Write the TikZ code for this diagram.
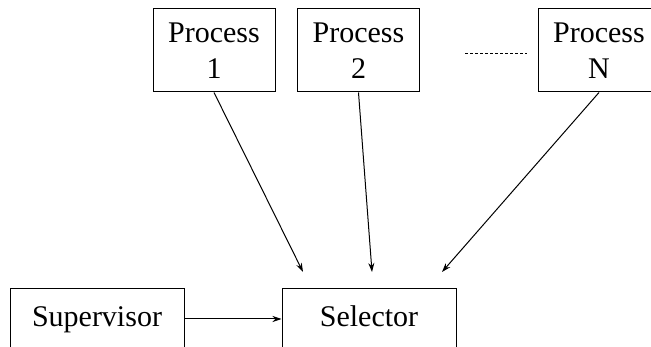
\documentclass[tikz,border=0pt]{standalone}
\usepackage{fontspec}
\setmainfont{Liberation Serif}
\usetikzlibrary{arrows.meta}

\tikzset{
	procbox/.style={draw, line width=1pt, minimum width=122pt, minimum height=83pt, align=center, inner sep=0pt, font=\fontsize{30}{36}\selectfont},
	wide/.style={minimum width=174pt, text height=20pt, text depth=27pt},
	flow/.style={line width=1pt, -{Stealth[length=9pt, width=6pt]}}
}

\begin{document}
\begin{tikzpicture}[x=1pt, y=-1pt]
	\useasboundingbox (0,0) rectangle (651,347);
	\clip (0,0) rectangle (651,347);

	\node[procbox] (p1) at (214,50.5) {Process\\1};
	\node[procbox] (p2) at (358.5,50.5) {Process\\2};
	\node[procbox] (pN) at (599,50.5) {Process\\N};
	\node[procbox, wide] (sup) at (97,330.5) {Supervisor};
	\node[procbox, wide] (sel) at (369,330.5) {Selector};

	\coordinate (d1) at (465,53);
	\coordinate (d2) at (527,53);
	\draw[line width=0.8pt, dash pattern=on 3pt off 2pt] (d1) -- (d2);

	\coordinate (a1) at (303,272);
	\coordinate (a2) at (372,272);
	\coordinate (aN) at (442,272);
	\draw[flow] (p1.south) -- (a1);
	\draw[flow] (p2.south) -- (a2);
	\draw[flow] (pN.south) -- (aN);
	\draw[flow] ([yshift=11.5pt]sup.east) -- ([yshift=11.5pt]sel.west);
\end{tikzpicture}
\end{document}
